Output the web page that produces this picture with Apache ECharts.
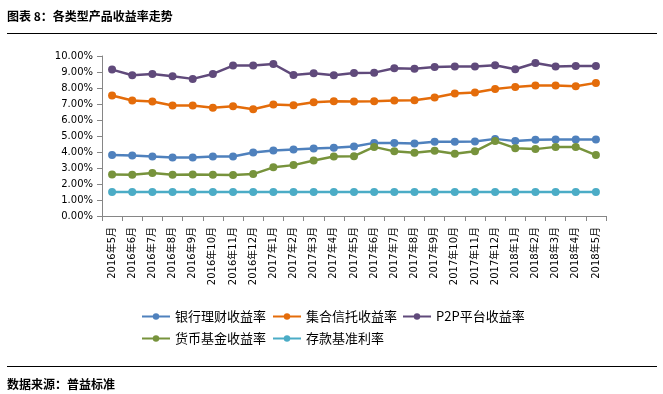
<!DOCTYPE html>
<html>
<head>
<meta charset="utf-8">
<script src="https://cdn.jsdelivr.net/npm/echarts@6/dist/echarts.min.js"></script>
<style>
html,body{margin:0;padding:0;background:#fff;}
#main{width:663px;height:394px;}
</style>
</head>
<body>
<div id="main"></div>
<script>
var categories = ['2016年5月','2016年6月','2016年7月','2016年8月','2016年9月','2016年10月','2016年11月','2016年12月',
  '2017年1月','2017年2月','2017年3月','2017年4月','2017年5月','2017年6月','2017年7月','2017年8月','2017年9月','2017年10月','2017年11月','2017年12月',
  '2018年1月','2018年2月','2018年3月','2018年4月','2018年5月'];
var seriesNames = ['银行理财收益率','集合信托收益率','P2P平台收益率','货币基金收益率','存款基准利率'];
var bankWealth = [3.81,3.78,3.72,3.66,3.66,3.72,3.72,3.97,4.10,4.16,4.22,4.26,4.35,4.57,4.57,4.53,4.64,4.64,4.66,4.82,4.68,4.76,4.78,4.78,4.78];
var trust = [7.53,7.22,7.16,6.91,6.91,6.76,6.86,6.67,6.97,6.92,7.11,7.17,7.16,7.17,7.22,7.24,7.40,7.65,7.72,7.94,8.07,8.15,8.15,8.11,8.32];
var p2p = [9.15,8.80,8.88,8.73,8.57,8.88,9.40,9.40,9.50,8.81,8.92,8.80,8.94,8.96,9.23,9.21,9.31,9.34,9.34,9.42,9.17,9.56,9.34,9.38,9.38];
var moneyFund = [2.60,2.58,2.68,2.58,2.60,2.58,2.56,2.62,3.04,3.18,3.47,3.72,3.74,4.32,4.04,3.95,4.08,3.89,4.04,4.68,4.24,4.18,4.32,4.32,3.81];
var deposit = [1.50,1.50,1.50,1.50,1.50,1.50,1.50,1.50,1.50,1.50,1.50,1.50,1.50,1.50,1.50,1.50,1.50,1.50,1.50,1.50,1.50,1.50,1.50,1.50,1.50];
var colors = ['#4F81BD','#E46C0A','#604A7B','#77933C','#4BACC6'];
var allData = [bankWealth, trust, p2p, moneyFund, deposit];

var chart = echarts.init(document.getElementById('main'), null, {renderer:'canvas'});
var cjk = '"Noto Sans CJK SC", sans-serif';
var legendPos = [[141,310],[272,310],[402,310],[141,332],[272,332]];
var legends = seriesNames.map(function(n,i){
  return {
    data:[n], left:legendPos[i][0], top:legendPos[i][1], orient:'horizontal',
    itemWidth:28, itemHeight:8, padding:0,
    textStyle:{fontSize:13, fontFamily:cjk, color:'#000'}
  };
});
var series = seriesNames.map(function(n,i){
  return {
    name:n, type:'line', data:allData[i], symbol:'circle', symbolSize:8,
    lineStyle:{width:2.5, color:colors[i]},
    itemStyle:{color:colors[i]}
  };
});
chart.setOption({
  animation:false,
  color:colors,
  grid:{left:102, right:57, top:56, bottom:178},
  legend:legends,
  xAxis:{
    type:'category', data:categories, boundaryGap:true,
    axisLine:{lineStyle:{color:'#868686', width:1}},
    axisTick:{show:true, length:5, interval:0, lineStyle:{color:'#868686'}},
    axisLabel:{rotate:90, interval:0, margin:11, fontSize:10, fontFamily:'"DejaVu Sans", "Noto Sans CJK SC", sans-serif', color:'#000'}
  },
  yAxis:{
    type:'value', min:0, max:10, interval:1,
    axisLine:{show:true, lineStyle:{color:'#868686', width:1}},
    axisTick:{show:true, length:5, lineStyle:{color:'#868686'}},
    splitLine:{show:false},
    axisLabel:{margin:9, fontSize:10, fontFamily:'"DejaVu Sans", sans-serif', color:'#000',
      formatter:function(v){return v.toFixed(2)+'%';}}
  },
  series:series,
  graphic:[
    {type:'text', left:7, top:10, style:{text:'图表 8：各类型产品收益率走势', font:'bold 12px "Noto Sans CJK SC"', fill:'#000'}},
    {type:'line', shape:{x1:7, y1:33.5, x2:657, y2:33.5}, style:{stroke:'#000', lineWidth:1.2}},
    {type:'line', shape:{x1:7, y1:366.5, x2:657, y2:366.5}, style:{stroke:'#000', lineWidth:1.2}},
    {type:'text', left:7, top:378, style:{text:'数据来源：普益标准', font:'bold 12px "Noto Sans CJK SC"', fill:'#000'}}
  ]
});
</script>
</body>
</html>
